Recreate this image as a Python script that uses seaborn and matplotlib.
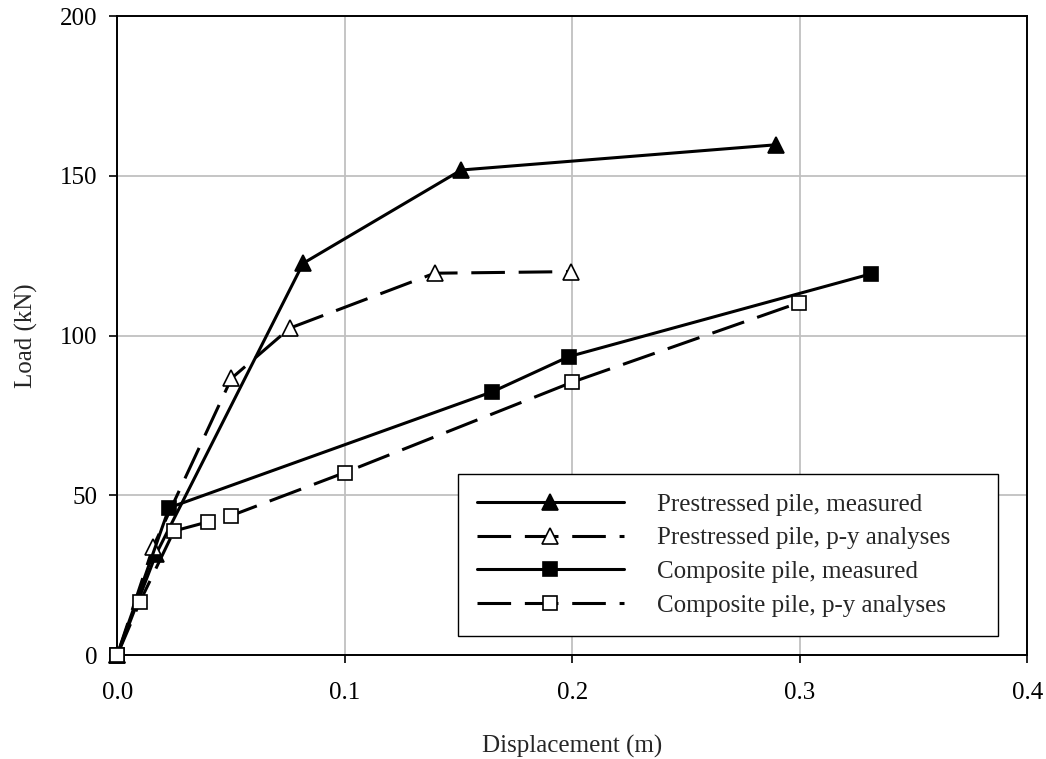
import matplotlib
matplotlib.use("Agg")
import matplotlib.pyplot as plt
import seaborn as sns
import pandas as pd

# Data
pre_meas_x = [0.0, 0.017, 0.0817, 0.1512, 0.2896]
pre_meas_y = [0.0, 31.5, 122.6, 151.8, 159.7]

pre_py_x = [0.0, 0.0158, 0.0502, 0.0758, 0.1395, 0.1996]
pre_py_y = [0.0, 33.9, 86.6, 102.3, 119.5, 120.0]

comp_meas_x = [0.0, 0.0228, 0.1649, 0.1985, 0.3313]
comp_meas_y = [0.0, 46.1, 82.4, 93.4, 119.3]

comp_py_x = [0.0, 0.010, 0.0249, 0.040, 0.050, 0.100, 0.200, 0.2998]
comp_py_y = [0.0, 16.7, 38.8, 41.7, 43.6, 57.1, 85.4, 110.3]

labels = ["Prestressed pile, measured", "Prestressed pile, p-y analyses",
          "Composite pile, measured", "Composite pile, p-y analyses"]
x_ticks = [0.0, 0.1, 0.2, 0.3, 0.4]
x_tick_labels = ["0.0", "0.1", "0.2", "0.3", "0.4"]
y_ticks = [0, 50, 100, 150, 200]
y_tick_labels = ["0", "50", "100", "150", "200"]

sns.set_style("ticks")
plt.rcParams["font.family"] = ["Liberation Serif", "DejaVu Serif"]
plt.rcParams["font.size"] = 18

fig = plt.figure(figsize=(10.46, 7.59), dpi=100)
ax = fig.add_axes([0.1121, 0.137, 0.8700, 0.8419])

dash = (0, (11, 4.5))
lw = 2.2
series = [
    (pre_meas_x, pre_meas_y, labels[0], "-", "^", "black", 11),
    (pre_py_x, pre_py_y, labels[1], dash, "^", "white", 11),
    (comp_meas_x, comp_meas_y, labels[2], "-", "s", "black", 10),
    (comp_py_x, comp_py_y, labels[3], dash, "s", "white", 10),
]
for i, (xs, ys, lab, ls, mk, mfc, ms) in enumerate(series):
    df = pd.DataFrame({"x": xs, "y": ys})
    sns.lineplot(data=df, x="x", y="y", ax=ax, sort=False, estimator=None,
                 color="black", linestyle=ls, linewidth=lw, marker=mk,
                 markersize=ms, markerfacecolor=mfc, markeredgecolor="black",
                 markeredgewidth=1.2, label=lab, zorder=3 + i, legend=False,
                 clip_on=False)

ax.set_xlim(0, 0.4)
ax.set_ylim(0, 200)
ax.set_xticks(x_ticks)
ax.set_xticklabels(x_tick_labels)
ax.set_yticks(y_ticks)
ax.set_yticklabels(y_tick_labels)
ax.grid(True, color="#c0c0c0", linewidth=1.3, zorder=0)
ax.set_axisbelow(True)
for s in ax.spines.values():
    s.set_visible(True)
    s.set_color("black")
    s.set_linewidth(1.4)
ax.tick_params(axis="both", direction="out", length=6, width=1.2, colors="black",
               labelsize=18)
ax.tick_params(axis="x", pad=13.5)
ax.tick_params(axis="y", pad=8)
ax.set_xlabel("Displacement (m)", fontsize=18, labelpad=22)
ax.set_ylabel("Load (kN)", fontsize=18, labelpad=16)

leg = ax.legend(loc="upper left", bbox_to_anchor=(0.3744, 0.0297, 0.5934, 0.2531),
                mode="expand", fontsize=18, frameon=True, fancybox=False,
                framealpha=1, edgecolor="black", handlelength=5.9,
                handletextpad=1.3, labelspacing=0.45, borderpad=0.75,
                borderaxespad=0, numpoints=1)
leg.get_frame().set_linewidth(1.0)
leg.set_zorder(10)

fig.savefig("out.png", dpi=100)
